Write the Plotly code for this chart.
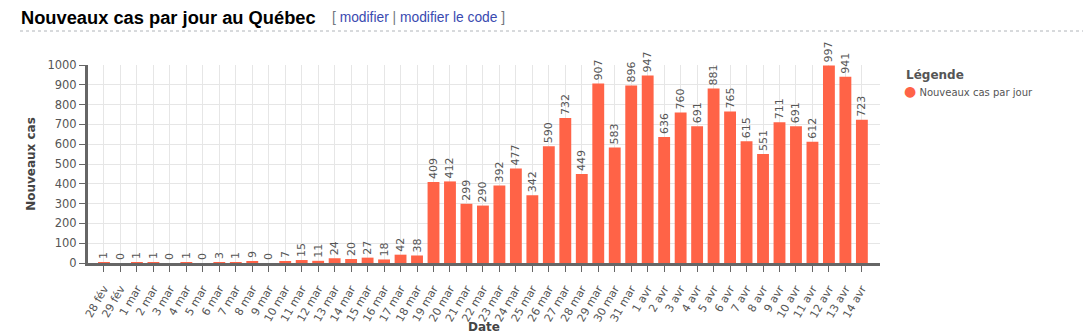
import plotly.graph_objects as go

dates = ["28 fév", "29 fév", "1 mar", "2 mar", "3 mar", "4 mar", "5 mar", "6 mar", "7 mar", "8 mar",
         "9 mar", "10 mar", "11 mar", "12 mar", "13 mar", "14 mar", "15 mar", "16 mar", "17 mar", "18 mar",
         "19 mar", "20 mar", "21 mar", "22 mar", "23 mar", "24 mar", "25 mar", "26 mar", "27 mar", "28 mar",
         "29 mar", "30 mar", "31 mar", "1 avr", "2 avr", "3 avr", "4 avr", "5 avr", "6 avr", "7 avr",
         "8 avr", "9 avr", "10 avr", "11 avr", "12 avr", "13 avr", "14 avr"]
new_cases = [1, 0, 1, 1, 0, 1, 0, 3, 1, 9,
             0, 7, 15, 11, 24, 20, 27, 18, 42, 38,
             409, 412, 299, 290, 392, 477, 342, 590, 732, 449,
             907, 583, 896, 947, 636, 760, 691, 881, 765, 615,
             551, 711, 691, 612, 997, 941, 723]
y_ticks = list(range(0, 1001, 100))
series_name = "Nouveaux cas par jour"

idx = list(range(len(dates)))
BAR = "#ff6347"
AX = "#666666"
TXT = "#555555"
FONT = "DejaVu Sans"
W, H = 1083, 334
L, R, T, B = 88, 203, 65, 71
pw, ph = W - L - R, H - T - B


def px_x(x):
    return (x - L) / pw


def px_y(y):
    return 1 - (y - T) / ph


fig = go.Figure()
fig.add_trace(go.Bar(
    x=idx, y=new_cases, marker_color=BAR, marker_line_width=0, name=series_name,
    text=[str(v) for v in new_cases], textposition="outside", textangle=-90,
    textfont=dict(family=FONT, size=11, color=TXT), constraintext="none",
    cliponaxis=False, showlegend=False, width=0.72,
))

fig.update_layout(
    width=W, height=H, margin=dict(l=L, r=R, t=T, b=B),
    paper_bgcolor="white", plot_bgcolor="white",
    font=dict(family=FONT, size=11, color=TXT),
    showlegend=False,
    xaxis=dict(range=[-0.97, 47.1], tickmode="array", tickvals=idx, ticktext=dates,
               tickangle=-60, ticks="outside", ticklen=6, tickcolor=AX, tickwidth=1,
               ticklabelstandoff=6,
               showgrid=True, gridcolor="#e6e6e6", gridwidth=1,
               showline=True, linecolor=AX, linewidth=3, zeroline=False,
               tickfont=dict(size=11, color=TXT), automargin=False),
    yaxis=dict(range=[0, 1000], tickmode="array", tickvals=y_ticks,
               ticks="outside", ticklen=6, tickcolor=AX, tickwidth=1,
               showgrid=True, gridcolor="#e6e6e6", gridwidth=1,
               showline=True, linecolor=AX, linewidth=3, zeroline=False,
               tickfont=dict(size=11.5, color=TXT), automargin=False,
               title=dict(text="<b>Nouveaux cas</b>", font=dict(size=12, color="#444444"), standoff=10)),
)

# x-axis title
fig.add_annotation(
    x=px_x(484), y=px_y(327), xref="paper", yref="paper", xanchor="center", yanchor="middle",
    text="<b>Date</b>", showarrow=False, font=dict(family=FONT, size=12, color="#444444"),
)

# page heading
fig.add_annotation(
    x=px_x(19), y=px_y(17), xref="paper", yref="paper", xanchor="left", yanchor="middle",
    text="<b>Nouveaux cas par jour au Québec</b>", showarrow=False,
    font=dict(family="Liberation Sans", size=18.3, color="#000000"),
)
fig.add_annotation(
    x=px_x(330), y=px_y(17), xref="paper", yref="paper", xanchor="left", yanchor="middle",
    text="<span style='color:#72777d'>[ </span><span style='color:#3a4ab0'>modifier</span>"
         "<span style='color:#72777d'> | </span><span style='color:#3a4ab0'>modifier le code</span>"
         "<span style='color:#72777d'> ]</span>",
    showarrow=False, font=dict(family="Liberation Sans", size=13.8, color="#3a4ab0"),
)
fig.add_shape(type="line", xref="paper", yref="paper",
              x0=px_x(20), x1=px_x(W), y0=px_y(31), y1=px_y(31),
              line=dict(color="#b0b4b9", width=1, dash="dot"))

# legend
fig.add_annotation(
    x=px_x(904), y=px_y(75), xref="paper", yref="paper", xanchor="left", yanchor="middle",
    text="<b>Légende</b>", showarrow=False,
    font=dict(family=FONT, size=12, color="#555555"),
)
fig.add_annotation(
    x=px_x(902), y=px_y(91), xref="paper", yref="paper", xanchor="left", yanchor="middle",
    text=f"<span style='color:{BAR};font-size:14px'>●</span> {series_name}", showarrow=False,
    font=dict(family=FONT, size=10, color="#555555"),
)

fig.write_html("out.html")
